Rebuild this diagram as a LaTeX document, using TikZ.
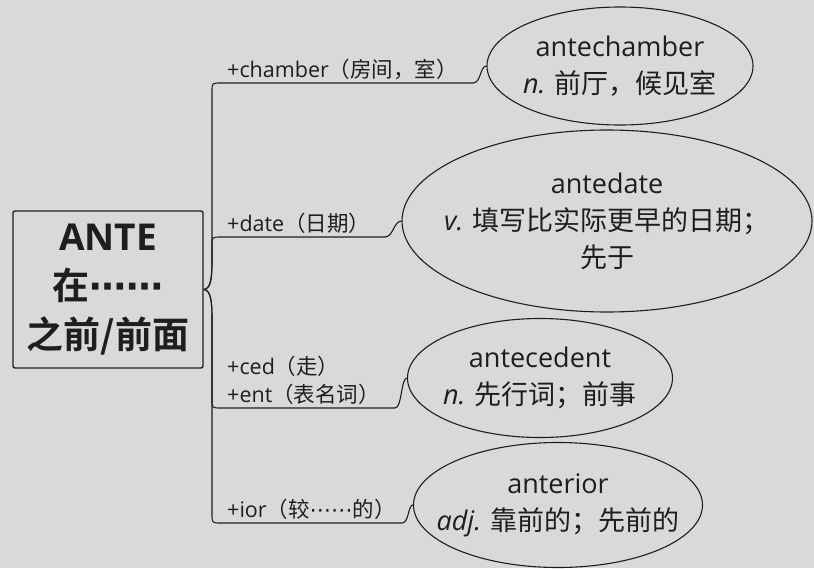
\documentclass[tikz,border=0pt]{standalone}
\usepackage{fontspec}
\setmainfont{Open Sans}
\newfontfamily\cjk{Noto Sans CJK SC}[BoldFont={Noto Sans CJK SC Bold}]
\newfontfamily\symb{DejaVu Sans}
\usetikzlibrary{shapes.geometric}

\definecolor{paper}{HTML}{D9D9D9}
\definecolor{ink}{HTML}{1E1E1E}

% dots at mid height, as in 在……
\newcommand\middots{{\symb ⋯⋯}}

\tikzset{
  rootbox/.style={draw=ink, line width=1.4pt, rounded corners=2pt, minimum width=190pt,
    minimum height=157pt, inner sep=0pt, align=center, text=ink,
    font=\fontsize{37}{49}\selectfont\bfseries},
  word/.style={ellipse, draw=ink, line width=1.1pt, inner xsep=-20pt, inner ysep=0pt,
    align=center, text=ink, font=\fontsize{27}{37}\selectfont},
  affix/.style={anchor=south west, inner sep=3pt, align=left, text=ink,
    font=\fontsize{21.5}{28}\selectfont},
  branch/.style={draw=ink, line width=1.1pt},
}

\begin{document}
\begin{tikzpicture}[x=1pt,y=-1pt]

        % Background
        \fill[paper] (0,0) rectangle (814,568);
        \useasboundingbox (0,0) rectangle (814,568);

        % Root
        \node[rootbox] (root) at (108,289.5) {ANTE\\{\cjk 在\middots}\\{\cjk 之前/前面}};

        % Words
        \node[word, minimum width=266pt, minimum height=118pt] (antechamber) at (620,66)
            {antechamber\\{\itshape n.} {\cjk 前厅，候见室}};
        \node[word, minimum width=410pt, minimum height=182pt] (antedate) at (607,221)
            {antedate\\{\itshape v.} {\cjk 填写比实际更早的日期；}\\{\cjk 先于}};
        \node[word, minimum width=265pt, minimum height=119pt] (antecedent) at (540,378)
            {antecedent\\{\itshape n.} {\cjk 先行词；前事}};
        \node[word, minimum width=289pt, minimum height=125pt] (anterior) at (558,505)
            {anterior\\{\itshape adj.} {\cjk 靠前的；先前的}};

        % Affixes
        \node[affix] (chamber) at (224,83) {+chamber{\cjk （房间，室）}};
        \node[affix] (date) at (224,237) {+date{\cjk （日期）}};
        \node[affix] (ced) at (224,408) {+ced{\cjk （走）}\\+ent{\cjk （表名词）}};
        \node[affix] (ior) at (224,523) {+ior{\cjk （较\middots 的）}};

        % Branches
        \draw[branch] (root.east) .. controls (211,289) and (212,276) .. (212,258)
            -- (212,92) .. controls (212,83) .. (221,83) -- (473,83)
            .. controls (481,83) and (480,66) .. (antechamber.west);
        \draw[branch] (root.east) .. controls (211,289) and (212,278) .. (212,264)
            -- (212,246) .. controls (212,237) .. (221,237) -- (385,237)
            .. controls (393,237) and (394,221) .. (antedate.west);
        \draw[branch] (root.east) .. controls (211,290) and (212,302) .. (212,318)
            -- (212,399) .. controls (212,408) .. (221,408) -- (395,408)
            .. controls (402,408) and (401,378) .. (antecedent.west);
        \draw[branch] (root.east) .. controls (211,290) and (212,302) .. (212,320)
            -- (212,514) .. controls (212,523) .. (221,523) -- (402,523)
            .. controls (409,523) and (408,505) .. (anterior.west);

\end{tikzpicture}
\end{document}
